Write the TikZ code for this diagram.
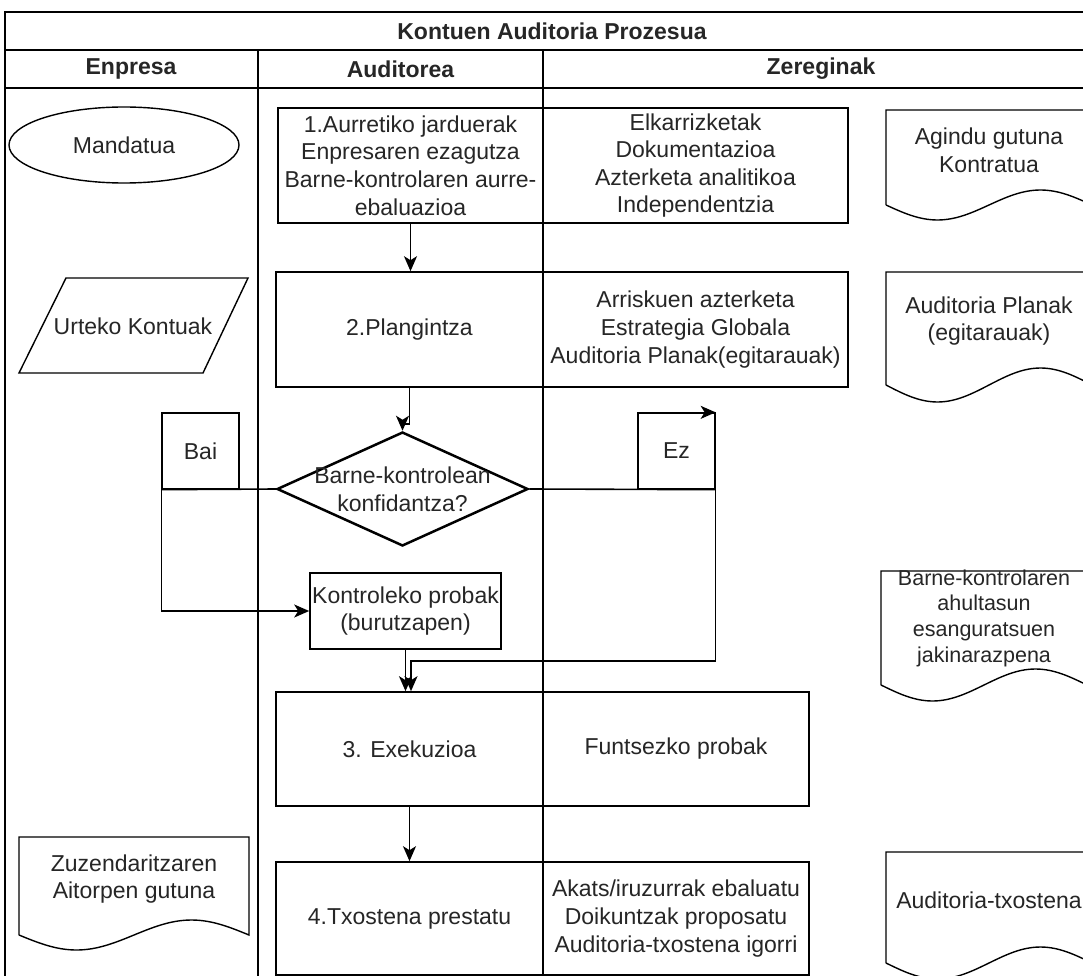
\documentclass[tikz,border=0pt]{standalone}
\usepackage{fontspec}
\setmainfont{Liberation Sans}
\usetikzlibrary{shapes.geometric, arrows.meta, positioning}

\begin{document}
\begin{tikzpicture}[x=1pt, y=-1pt,
    >={Stealth[length=15pt, width=13pt, inset=4pt]},
    every node/.style={font=\fontsize{23}{27.6}\selectfont, align=center, inner sep=0pt, text=black!85},
    header/.style={font=\fontsize{23}{27.6}\selectfont\bfseries},
    lane/.style={line width=1.4pt},
    procbox/.style={draw, rectangle, line width=1.6pt},
    flowline/.style={line width=1.6pt},
    docline/.style={line width=1.4pt}]

      \useasboundingbox (0,0) rectangle (1083,976);
      \fill[white] (0,0) rectangle (1083,976);
      \clip (0,0) rectangle (1083,976);

      % swimlanes
      \draw[lane] (5,1000) -- (5,12) -- (1099,12) -- (1099,1000);
      \draw[lane] (5,50) -- (1099,50);
      \draw[lane] (5,88) -- (1099,88);
      \draw[lane] (258,50) -- (258,1000);
      \draw[lane] (543,50) -- (543,1000);

      \node[header] (title) at (552,31) {Kontuen Auditoria Prozesua};
      \node[header] (enpresa) at (131,69) {Enpresa};
      \node[header] (auditorea) at (400.5,69) {Auditorea};
      \node[header] (zereginak) at (821,69) {Zereginak};

      % enpresa lane
      \node[draw, ellipse, line width=1.4pt, minimum width=230, minimum height=76] (mandatua) at (124,145) {Mandatua};
      \draw[docline] (66,278) -- (248,278) -- (203,373) -- (19,373) -- cycle;
      \node (urteko) at (133,326) {Urteko Kontuak};
      \draw[docline] (19,935) -- (19,837) -- (249,837) -- (249,935) sin (191.5,920) cos (134,935) sin (76.5,950) cos (19,935);
      \node (zuzen) at (134,879) {Zuzendaritzaren\\Aitorpen gutuna};

      % auditorea lane
      \node[procbox, minimum width=265, minimum height=115] (pre) at (410.5,165.5) {1.Aurretiko jarduerak\\Enpresaren ezagutza\\Barne-kontrolaren aurre-\\ebaluazioa};
      \node[procbox, minimum width=267, minimum height=115] (plan) at (409.5,329.5) {2.Plangintza};
      \node[draw, diamond, line width=2.5pt, minimum width=251, minimum height=114,
            label={[align=center]center:{Barne-kontrolean\\konfidantza?}}] (dec) at (402.5,489) {};
      \node[procbox, line width=1.3pt, minimum width=77, minimum height=76] (bai) at (200.5,451) {Bai};
      \node[procbox, line width=1.3pt, minimum width=77, minimum height=76] (ez) at (676.5,451) {Ez};
      \node[procbox, minimum width=191, minimum height=76] (ctrl) at (405.5,611) {Kontroleko probak\\(burutzapen)};
      \node[procbox, minimum width=267, minimum height=114] (exe) at (409.5,749) {3. Exekuzioa};
      \node[procbox, minimum width=267, minimum height=113] (rep) at (409.5,918.5) {4.Txostena prestatu};

      % zereginak lane
      \node[procbox, minimum width=305, minimum height=115] (pretask) at (695.5,165.5) {Elkarrizketak\\Dokumentazioa\\Azterketa analitikoa\\Independentzia};
      \node[procbox, minimum width=305, minimum height=115] (plantask) at (695.5,329.5) {Arriskuen azterketa\\Estrategia Globala\\Auditoria Planak(egitarauak)};
      \node[procbox, minimum width=266, minimum height=114] (exetask) at (676,749) {Funtsezko probak};
      \node[procbox, minimum width=266, minimum height=113] (reptask) at (676,918.5) {Akats/iruzurrak ebaluatu\\Doikuntzak proposatu\\Auditoria-txostena igorri};

      % documents
      \draw[docline] (886,205) -- (886,110) -- (1092,110) -- (1092,205) sin (1040.5,190) cos (989,205) sin (937.5,220) cos (886,205);
      \node (agindu) at (989,150) {Agindu gutuna\\Kontratua};
      \draw[docline] (886,385) -- (886,272) -- (1092,272) -- (1092,385) sin (1040.5,368) cos (989,385) sin (937.5,402) cos (886,385);
      \node (planak) at (989,321) {Auditoria Planak\\(egitarauak)};
      \draw[docline] (881,685) -- (881,571) -- (1087,571) -- (1087,685) sin (1035.5,669) cos (984,685) sin (932.5,701) cos (881,685);
      \node[font=\fontsize{21.5}{25.7}\selectfont] (ahul) at (984,618) {Barne-kontrolaren\\ahultasun\\esanguratsuen\\jakinarazpena};
      \draw[docline] (886,963) -- (886,852) -- (1092,852) -- (1092,963) sin (1040.5,947) cos (989,963) sin (937.5,979) cos (886,963);
      \node (txostena) at (989,900) {Auditoria-txostena};

      % pre to plan
      \draw[flowline, ->] (pre.south) -- (pre.south |- plan.north);
      % plan to decision
      \draw[flowline, ->] (plan.south) -- ++(0,36) -| (dec.north);
      % bai branch
      \draw[flowline] (dec.west) -- (bai.south west);
      \draw[flowline, ->] (bai.south west) |- (ctrl.west);
      % ez branch
      \draw[flowline] (dec.east) -- (ez.south east);
      \draw[flowline, ->] (ez.north west) -- (ez.north east);
      \coordinate (join) at (411,661);
      \draw[flowline, ->] (ez.north east) |- (join) -- (join |- exe.north);
      % ctrl to exe
      \draw[flowline, ->] (ctrl.south) -- (ctrl.south |- exe.north);
      % exe to rep
      \draw[flowline, ->] (exe.south) -- (rep.north);
    \end{tikzpicture}
\end{document}
